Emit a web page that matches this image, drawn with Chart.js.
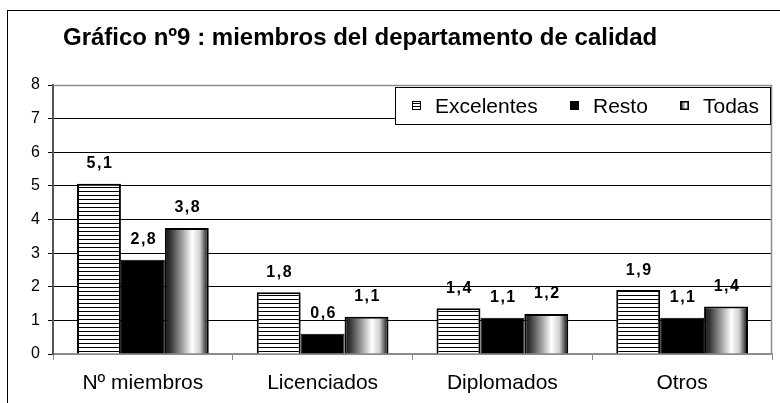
<!DOCTYPE html>
<html>
<head>
<meta charset="utf-8">
<script src="https://cdn.jsdelivr.net/npm/chart.js"></script>
<style>
  html, body { margin: 0; padding: 0; background: #fff; }
  #wrap { width: 780px; height: 403px; }
</style>
</head>
<body>
<div id="wrap"><canvas id="chart" width="780" height="403"></canvas></div>
<script>
// Datos del gráfico
const categorias = ['Nº miembros', 'Licenciados', 'Diplomados', 'Otros'];
const excelentes = [5.06, 1.84, 1.36, 1.9];
const resto = [2.8, 0.6, 1.08, 1.08];
const todas = [3.75, 1.11, 1.19, 1.41];
const ticksY = [0, 1, 2, 3, 4, 5, 6, 7, 8];
const titulo = 'Gráfico nº9 : miembros del departamento de calidad';

const FONT = '"Liberation Sans", Arial, sans-serif';

// Trama de rayas horizontales (Excelentes)
function rayas() {
    const c = document.createElement('canvas');
    c.width = 4; c.height = 4;
    const g = c.getContext('2d');
    g.fillStyle = '#fff';
    g.fillRect(0, 0, 4, 4);
    g.fillStyle = '#000';
    g.fillRect(0, 3, 4, 1);
    return g.createPattern(c, 'repeat');
}

// Degradado horizontal tipo cilindro (Todas)
function degradado(ctx, x0, x1) {
    const gr = ctx.createLinearGradient(x0, 0, x1, 0);
    gr.addColorStop(0, '#111');
    gr.addColorStop(0.12, '#333');
    gr.addColorStop(0.38, '#9a9a9a');
    gr.addColorStop(0.62, '#fff');
    gr.addColorStop(0.8, '#cfcfcf');
    gr.addColorStop(0.95, '#333');
    gr.addColorStop(1, '#111');
    return gr;
}

const fmt = v => v.toFixed(1).replace('.', ',');

const pluginExtra = {
    id: 'extra',
    beforeDraw(chart) {
        const ctx = chart.ctx;
        ctx.save();
        // marco exterior (recortado a la derecha y abajo)
        ctx.strokeStyle = '#000';
        ctx.lineWidth = 1;
        ctx.strokeRect(7.5, 10.5, 900, 500);
        // título
        ctx.fillStyle = '#000';
        ctx.font = 'bold 24px ' + FONT;
        ctx.textBaseline = 'alphabetic';
        ctx.textAlign = 'left';
        ctx.fillText(titulo, 63, 45);
        ctx.restore();
    },
    beforeDatasetsDraw(chart) {
        const meta = chart.getDatasetMeta(2);
        meta.data.forEach(el => {
            const x0 = el.x - el.width / 2;
            el.options = Object.assign({}, el.options, {
                backgroundColor: degradado(chart.ctx, x0, x0 + el.width)
            });
        });
    },
    afterDatasetsDraw(chart) {
        const ctx = chart.ctx;
        const area = chart.chartArea;
        ctx.save();
        // borde gris superior y derecho del área
        ctx.strokeStyle = '#8c8c8c';
        ctx.lineWidth = 1.5;
        ctx.beginPath();
        ctx.moveTo(area.left, area.top + 0.5);
        ctx.lineTo(area.right - 0.5, area.top + 0.5);
        ctx.lineTo(area.right - 0.5, area.bottom);
        ctx.stroke();

        // etiquetas de datos
        ctx.fillStyle = '#000';
        ctx.font = 'bold 16px ' + FONT;
        ctx.textAlign = 'center';
        ctx.textBaseline = 'middle';
        if ('letterSpacing' in ctx) ctx.letterSpacing = '1.5px';
        chart.data.datasets.forEach((ds, i) => {
            chart.getDatasetMeta(i).data.forEach((el, j) => {
                ctx.fillText(fmt(ds.data[j]), el.x + 1, el.y - 20);
            });
        });
        if ('letterSpacing' in ctx) ctx.letterSpacing = '0px';

        // leyenda dentro del área
        const lx = 395.5, ly = 87.5, lw = 375, lh = 37;
        ctx.fillStyle = '#fff';
        ctx.fillRect(lx, ly, lw, lh);
        ctx.strokeStyle = '#000';
        ctx.lineWidth = 1;
        ctx.strokeRect(lx, ly, lw, lh);
        ctx.font = '21px ' + FONT;
        ctx.textAlign = 'left';
        ctx.textBaseline = 'middle';
        const posiciones = [412, 570, 680];
        const cy = ly + lh / 2;
        chart.data.datasets.forEach((ds, i) => {
            const mx = posiciones[i];
            const my = cy - 5;
            if (i === 0) {
                ctx.fillStyle = '#fff';
                ctx.fillRect(mx, my, 9, 9);
                ctx.fillStyle = '#000';
                for (let k = 2; k < 9; k += 3) ctx.fillRect(mx, my + k, 9, 1);
                ctx.strokeRect(mx + 0.5, my + 0.5, 8, 8);
            } else if (i === 1) {
                ctx.fillStyle = '#000';
                ctx.fillRect(mx, my, 9, 9);
            } else {
                ctx.fillStyle = degradado(ctx, mx, mx + 9);
                ctx.fillRect(mx, my, 9, 9);
                ctx.lineWidth = 1.5;
                ctx.strokeRect(mx + 0.75, my + 0.75, 7.5, 7.5);
                ctx.lineWidth = 1;
            }
            ctx.fillStyle = '#000';
            ctx.fillText(ds.label, mx + 23, cy + 1);
        });
        ctx.restore();
    }
};

new Chart(document.getElementById('chart'), {
    type: 'bar',
    data: {
        labels: categorias,
        datasets: [
            {
                label: 'Excelentes',
                data: excelentes,
                backgroundColor: rayas(),
                borderColor: '#000',
                borderWidth: 2
            },
            {
                label: 'Resto',
                data: resto,
                backgroundColor: '#000',
                borderColor: '#000',
                borderWidth: 1
            },
            {
                label: 'Todas',
                data: todas,
                backgroundColor: '#888',
                borderColor: '#000',
                borderWidth: 2
            }
        ]
    },
    options: {
        responsive: false,
        animation: false,
        devicePixelRatio: 1,
        layout: { padding: { top: 85, right: 8, left: 0, bottom: 0 } },
        datasets: {
            bar: { categoryPercentage: 0.733, barPercentage: 1.0 }
        },
        plugins: {
            legend: { display: false },
            title: { display: false },
            tooltip: { enabled: false }
        },
        scales: {
            x: {
                afterFit: s => { s.height = 49; },
                grid: {
                    offset: true,
                    drawOnChartArea: false,
                    tickLength: 6,
                    color: '#8c8c8c'
                },
                border: { color: '#8c8c8c', width: 1.5 },
                ticks: {
                    color: '#000',
                    padding: 11,
                    font: { family: FONT, size: 21 }
                }
            },
            y: {
                min: ticksY[0],
                max: ticksY[ticksY.length - 1],
                afterFit: s => { s.width = 53; },
                afterBuildTicks: s => { s.ticks = ticksY.map(v => ({ value: v })); },
                grid: {
                    color: c => (c.tick && (c.tick.value === 8 || c.tick.value === 0)) ? '#8c8c8c' : '#000',
                    tickColor: '#000',
                    tickLength: 5,
                    lineWidth: 1
                },
                border: { color: '#555', width: 2 },
                ticks: {
                    color: '#000',
                    padding: 8,
                    font: { family: FONT, size: 16 }
                }
            }
        }
    },
    plugins: [pluginExtra]
});
</script>
</body>
</html>
